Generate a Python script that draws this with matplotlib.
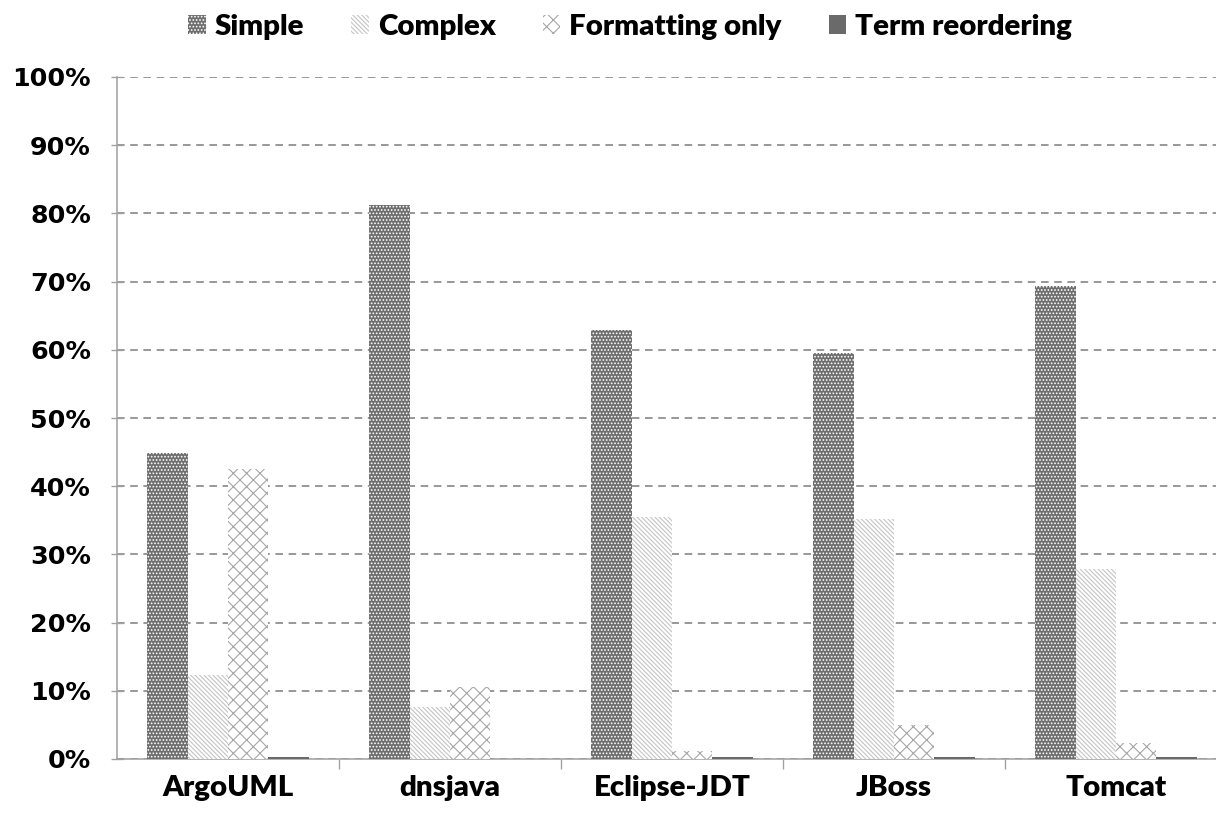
import matplotlib
matplotlib.use("Agg")
import matplotlib.pyplot as plt
from matplotlib.patches import Patch
from matplotlib.ticker import FuncFormatter, MultipleLocator, FixedLocator
import numpy as np

# Share of changes per project, in percent
projects = ["ArgoUML", "dnsjava", "Eclipse-JDT", "JBoss", "Tomcat"]
simple = [44.8, 81.2, 62.9, 59.5, 69.3]
complex_ = [12.3, 7.6, 35.5, 35.2, 27.9]
formatting_only = [42.5, 10.6, 1.1, 5.0, 2.4]
term_reordering = [0.3, 0.0, 0.3, 0.3, 0.3]

series_names = ["Simple", "Complex", "Formatting only", "Term reordering"]
series_values = [simple, complex_, formatting_only, term_reordering]

# face colour, hatch colour, hatch pattern
styles = [
    ("#6e6e6e", "#ffffff", "...."),
    ("#ffffff", "#c4c4c4", "\\\\\\\\\\\\"),
    ("#ffffff", "#a6a6a6", "xx"),
    ("#6a6a6a", "#6a6a6a", ""),
]

DPI = 80
W, H = 1216, 817
plt.rcParams["hatch.linewidth"] = 1.0

fig = plt.figure(figsize=(W / DPI, H / DPI), dpi=DPI)
ax = fig.add_axes([117 / W, 1 - 759 / H, 1110 / W, 682 / H])

x = np.arange(len(projects))
bw = 0.182
for k, (name, vals) in enumerate(zip(series_names, series_values)):
    fc, hc, hatch = styles[k]
    ax.bar(x + (k - 1.5) * bw, vals, width=bw, color=fc, edgecolor=hc,
           hatch=hatch, linewidth=0, zorder=3, label=name)

ax.set_xlim(-0.5, len(projects) - 0.5)
ax.set_ylim(0, 100)

# horizontal dashed gridlines
ax.yaxis.set_major_locator(MultipleLocator(10))
ax.yaxis.set_major_formatter(FuncFormatter(lambda v, p: f"{int(round(v))}%"))
ax.grid(axis="y", color="#9a9a9a", linewidth=1.8, linestyle=(0, (3.8, 2.8)), zorder=0)
ax.set_axisbelow(True)

for s in ["top", "right"]:
    ax.spines[s].set_visible(False)
for s in ["left", "bottom"]:
    ax.spines[s].set_color("#a0a0a0")
    ax.spines[s].set_linewidth(1.4)

ax.tick_params(axis="y", direction="inout", length=11, width=1.2, color="#a0a0a0",
               pad=18, labelsize=22.8)
for lab in ax.get_yticklabels():
    lab.set_fontweight("bold")
    lab.set_family("DejaVu Sans")

ax.set_xticks(x)
ax.set_xticklabels(projects, fontsize=26.5, fontweight="heavy", family="Lato")
ax.tick_params(axis="x", which="major", length=0, pad=14)
ax.xaxis.set_minor_locator(FixedLocator(np.arange(0.5, len(projects), 1.0)))
ax.tick_params(axis="x", which="minor", direction="out", length=9, width=1.2, color="#a0a0a0")

handles = [Patch(facecolor=styles[k][0], edgecolor=styles[k][1], hatch=styles[k][2],
                 linewidth=0, label=series_names[k]) for k in range(4)]
fig.legend(handles=handles, loc="center", bbox_to_anchor=(630 / W, 1 - 27 / H), ncol=4,
           frameon=False, handlelength=0.6, handleheight=0.6, handletextpad=0.3,
           columnspacing=1.6, prop={"family": "Lato", "weight": "heavy", "size": 26.5})

fig.savefig("out.png", dpi=DPI)
